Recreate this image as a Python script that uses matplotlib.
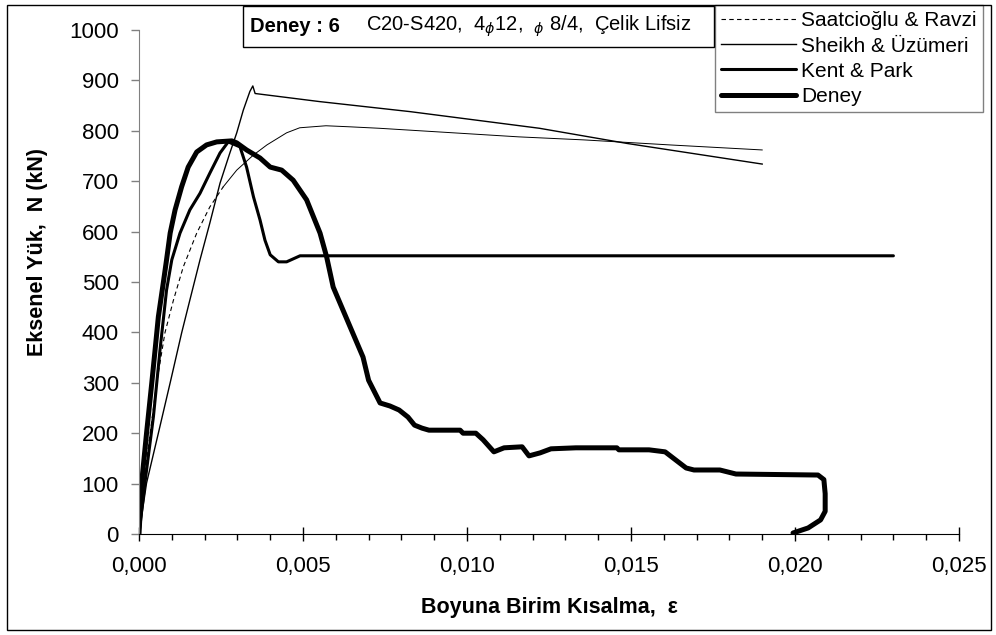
import matplotlib
matplotlib.use("Agg")
import matplotlib.pyplot as plt
from matplotlib.patches import Rectangle
from matplotlib.ticker import MultipleLocator, FuncFormatter

plt.rcParams['font.family'] = ['Liberation Sans', 'DejaVu Sans']

# values: strain (eps) and axial load N (kN)
deney_eps = [0, 0.00008, 0.00023, 0.00039, 0.00049, 0.00059, 0.00074, 0.00084, 0.00095, 0.0011,
             0.0013, 0.0015, 0.00176, 0.00206, 0.00237, 0.00283, 0.00298, 0.00328, 0.00369, 0.004,
             0.00435, 0.0047, 0.00511, 0.00552, 0.00572, 0.00592, 0.00643, 0.00683, 0.0070, 0.00735,
             0.00765, 0.00793, 0.0082, 0.0084, 0.00863, 0.00884, 0.00979, 0.00988, 0.01027, 0.01049,
             0.01082, 0.01113, 0.01168, 0.01189, 0.01223, 0.01256, 0.01332, 0.01457, 0.01463, 0.01555,
             0.01604, 0.01668, 0.01692, 0.01771, 0.0182, 0.0207, 0.02088, 0.02092, 0.02092, 0.02078,
             0.0204, 0.01994]
deney_N = [0, 101, 200, 300, 365, 431, 498, 544, 597, 643,
           689, 728, 758, 772, 778, 780, 776, 762, 746, 728,
           722, 702, 663, 597, 550, 490, 412, 351, 305, 260,
           254, 246, 232, 216, 210, 206, 206, 200, 200, 187,
           163, 171, 173, 155, 161, 169, 171, 171, 167, 167,
           163, 131, 127, 127, 119, 117, 108, 80, 45, 28,
           12, 2]

kent_eps = [0, 0.00018, 0.00044, 0.00064, 0.00084, 0.001, 0.00125, 0.00155, 0.00186, 0.00216,
            0.00247, 0.00272, 0.00308, 0.00328, 0.00349, 0.00369, 0.00384, 0.004, 0.00425, 0.0045,
            0.00491, 0.023]
kent_N = [0, 101, 233, 365, 484, 544, 597, 643, 676, 716,
          756, 778, 768, 728, 669, 623, 583, 554, 540, 540,
          552, 552]

sheikh_eps = [0, 0.00023, 0.00059, 0.00095, 0.0013, 0.00155, 0.00186, 0.00216, 0.00247, 0.00277,
              0.00298, 0.00318, 0.00338, 0.00347, 0.00354, 0.0055, 0.00827, 0.01221, 0.01487, 0.019]
sheikh_N = [0, 101, 200, 300, 399, 464, 544, 617, 696, 756,
            796, 841, 878, 889, 874, 858, 838, 805, 775, 734]

saat_eps = [0, 0.00013, 0.00034, 0.00054, 0.00079, 0.00105, 0.00135, 0.00176, 0.00216, 0.00257,
            0.00298, 0.00349, 0.0039, 0.0045, 0.0049, 0.0057, 0.0064, 0.00733, 0.00958, 0.01157,
            0.01355, 0.01618, 0.019]
saat_N = [0, 101, 200, 300, 399, 464, 530, 597, 649, 689,
          722, 752, 772, 796, 806, 810, 808, 805, 796, 788,
          782, 772, 762]

W, H = 996, 635
fig = plt.figure(figsize=(W / 100, H / 100), dpi=100)

def fx(p):
    return p / W

def fy(p):
    return 1 - p / H

ax = fig.add_axes([fx(139), fy(534), fx(959) - fx(139), fy(30) - fy(534)])

# dashes of the original only show on the sparse rising part
l1, = ax.plot(saat_eps[:10], saat_N[:10], color='black', lw=0.8, ls=(0, (4, 3)))
ax.plot(saat_eps[9:], saat_N[9:], color='black', lw=0.7)
l2, = ax.plot(sheikh_eps, sheikh_N, color='black', lw=1.0)
l3, = ax.plot(kent_eps, kent_N, color='black', lw=2.2, solid_capstyle='round')
l4, = ax.plot(deney_eps, deney_N, color='black', lw=3.6, solid_capstyle='round',
              solid_joinstyle='round')

ax.set_xlim(0, 0.025)
ax.set_ylim(0, 1000)
ax.xaxis.set_major_locator(MultipleLocator(0.005))
ax.xaxis.set_minor_locator(MultipleLocator(0.001))
ax.yaxis.set_major_locator(MultipleLocator(100))
ax.xaxis.set_major_formatter(FuncFormatter(lambda v, p: f"{v:.3f}".replace('.', ',')))

for s in ['top', 'right']:
    ax.spines[s].set_visible(False)
ax.spines['left'].set_color('#808080')
ax.spines['bottom'].set_color('black')

ax.tick_params(axis='x', which='major', direction='inout', length=10, width=1, pad=11, labelsize=16)
ax.tick_params(axis='x', which='minor', direction='out', length=4, width=1)
ax.tick_params(axis='y', which='major', direction='out', length=5.5, width=1, pad=9, labelsize=16,
               color='#808080')

fig.text(fx(549), fy(608), "Boyuna Birim Kısalma,  ε", ha='center', va='center',
         fontsize=15.5, fontweight='bold')
fig.text(fx(38), fy(252), "Eksenel Yük,  N (kN)", ha='center', va='center', rotation=90,
         fontsize=15.5, fontweight='bold')

# outer border
fig.patches.append(Rectangle((fx(7), fy(630)), fx(991) - fx(7), fy(5) - fy(630),
                             transform=fig.transFigure, fill=False, ec='black', lw=1))

# annotation box
fig.patches.append(Rectangle((fx(243), fy(47)), fx(714) - fx(243), fy(6) - fy(47),
                             transform=fig.transFigure, fc='white', ec='black', lw=1, zorder=5))
fig.text(fx(250), fy(26), "Deney : 6", ha='left', va='center', fontsize=14.5,
         fontweight='bold', zorder=6)
fig.text(fx(366), fy(26), r"C20-S420,  4$_\phi$12,  $_\phi$ 8/4,  Çelik Lifsiz", ha='left',
         va='center', fontsize=14.5, zorder=6)

leg = ax.legend([l1, l2, l3, l4], ["Saatcioğlu & Ravzi", "Sheikh & Üzümeri", "Kent & Park", "Deney"],
                loc='upper left', bbox_to_anchor=(fx(715), fy(5)), bbox_transform=fig.transFigure,
                borderaxespad=0, fontsize=15, frameon=True, fancybox=False, edgecolor='#808080',
                framealpha=1, handlelength=3.6, handletextpad=0.25, labelspacing=0.3, borderpad=0.3)
leg.get_frame().set_linewidth(1)

fig.savefig("out.png", dpi=100)
